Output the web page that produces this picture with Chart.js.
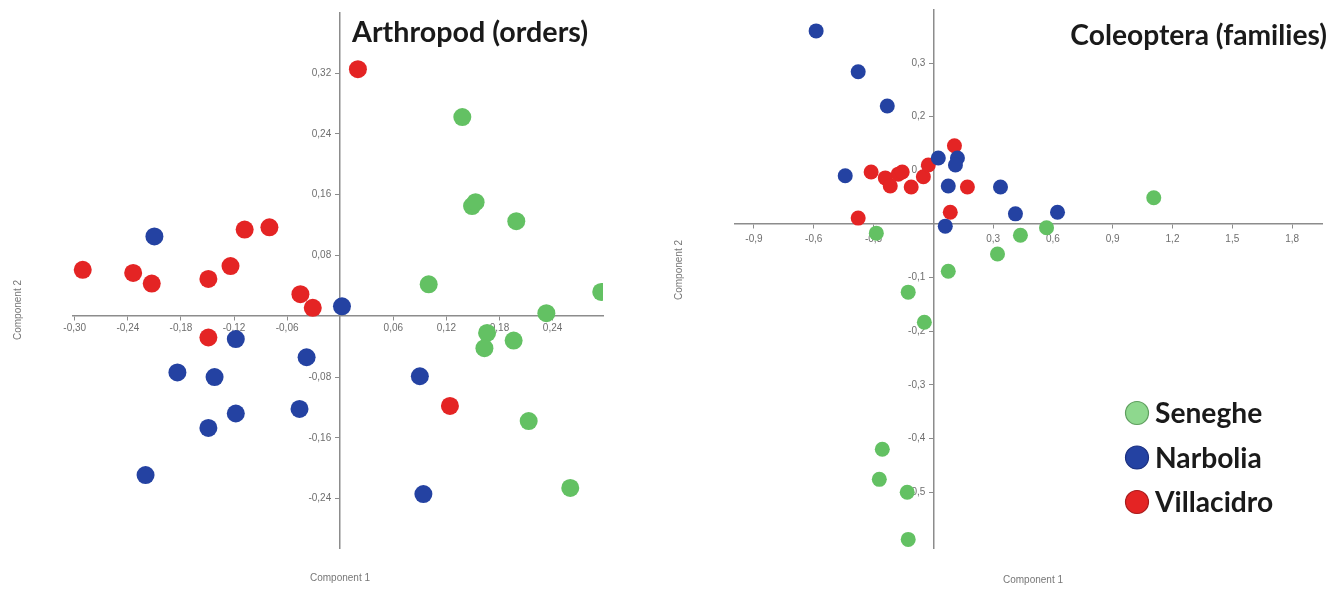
<!DOCTYPE html>
<html>
<head>
<meta charset="utf-8">
<script src="https://cdn.jsdelivr.net/npm/chart.js@4/dist/chart.umd.min.js"></script>
<style>
  html, body { margin: 0; padding: 0; background: #ffffff; }
  #wrap { position: relative; width: 1330px; height: 590px; overflow: hidden; }
  .box { position: absolute; top: 0; height: 590px; width: 665px; }
  #boxA { left: 0; }
  #boxB { left: 665px; }
</style>
</head>
<body>
<div id="wrap">
  <div class="box" id="boxA"><canvas id="chartA"></canvas></div>
  <div class="box" id="boxB"><canvas id="chartB"></canvas></div>
</div>
<script>
// ---------- Data ----------
const seriesNames = ["Seneghe", "Narbolia", "Villacidro"];

// Arthropod (orders)
const arthSenegheX = [0.138, 0.149, 0.153, 0.199, 0.100, 0.295, 0.233, 0.166, 0.163, 0.196, 0.213, 0.260];
const arthSenegheY = [0.262, 0.145, 0.150, 0.125, 0.042, 0.032, 0.004, -0.022, -0.042, -0.032, -0.138, -0.226];
const arthNarboliaX = [-0.210, 0.002, -0.118, -0.184, -0.142, -0.038, -0.118, -0.046, -0.149, -0.220, 0.090, 0.094];
const arthNarboliaY = [0.105, 0.013, -0.030, -0.074, -0.080, -0.054, -0.128, -0.122, -0.147, -0.209, -0.079, -0.234];
const arthVillacidroX = [0.020, -0.291, -0.234, -0.213, -0.149, -0.124, -0.108, -0.080, -0.045, -0.031, -0.149, 0.124];
const arthVillacidroY = [0.325, 0.061, 0.057, 0.043, 0.049, 0.066, 0.114, 0.117, 0.029, 0.011, -0.028, -0.118];
const arthXTicks = [-0.30, -0.24, -0.18, -0.12, -0.06, 0.06, 0.12, 0.18, 0.24];
const arthYTicks = [0.32, 0.24, 0.16, 0.08, -0.08, -0.16, -0.24];

// Coleoptera (families)
const coleSenegheX = [1.106, 0.568, 0.437, 0.322, 0.075, -0.126, -0.045, -0.286, -0.256, -0.271, -0.131, -0.126];
const coleSenegheY = [0.049, -0.007, -0.021, -0.056, -0.088, -0.127, -0.183, -0.017, -0.420, -0.476, -0.500, -0.588];
const coleNarboliaX = [-0.588, -0.377, -0.231, -0.442, 0.025, 0.121, 0.111, 0.075, 0.337, 0.412, 0.623, 0.060];
const coleNarboliaY = [0.360, 0.284, 0.220, 0.090, 0.123, 0.123, 0.110, 0.071, 0.069, 0.019, 0.022, -0.004];
const coleVillacidroX = [0.106, -0.312, -0.241, -0.216, -0.176, -0.156, -0.111, -0.050, -0.025, 0.171, 0.085, -0.377];
const coleVillacidroY = [0.146, 0.097, 0.086, 0.071, 0.093, 0.097, 0.069, 0.088, 0.110, 0.069, 0.022, 0.011];
const coleXTicks = [-0.9, -0.6, -0.3, 0.3, 0.6, 0.9, 1.2, 1.5, 1.8];
const coleYTicks = [0.3, 0.2, 0.1, -0.1, -0.2, -0.3, -0.4, -0.5];

// ---------- Styles ----------
const pointColors = ["#63c163", "#2442a2", "#e42424"];
const legendFill = ["#8ed88e", "#2442a2", "#e42424"];
const legendStroke = ["#5f9f5f", "#1b3080", "#a81c1c"];
const axisColor = "#8c8c8c";
const tickFontColor = "#6e6e6e";
const tickFont = "10px 'Liberation Sans', Arial, sans-serif";

function pts(xs, ys) { return xs.map((x, i) => ({ x: x, y: ys[i] })); }

function fitFont(ctx, text, targetWidth, family) {
  ctx.font = "bold 24px " + family;
  const w = ctx.measureText(text).width;
  return Math.round(24 * targetWidth / w * 10) / 10;
}

const annotatePlugin = {
  id: "annotate",
  beforeDatasetsDraw(chart, args, opts) {
    // y-axis tick labels (left of the centred axis, from the scale's own ticks)
    const ctx = chart.ctx;
    ctx.save();
    const ys = chart.scales.y;
    const axisX = chart.scales.x.getPixelForValue(0);
    ctx.font = tickFont;
    ctx.fillStyle = tickFontColor;
    ctx.textAlign = "right";
    ctx.textBaseline = "middle";
    ys.ticks.forEach((tk) => {
      ctx.fillText(tk.label, axisX - opts.yLabelGap, ys.getPixelForValue(tk.value));
    });
    ctx.restore();
  },
  afterDraw(chart, args, opts) {
    const ctx = chart.ctx;
    ctx.save();
    const fam = "Lato, 'Open Sans', sans-serif";
    // title
    const t = opts.title;
    const size = fitFont(ctx, t.text, t.width, fam);
    ctx.font = "bold " + size + "px " + fam;
    ctx.fillStyle = "#1a1a1a";
    ctx.textBaseline = "alphabetic";
    ctx.textAlign = t.align;
    ctx.fillText(t.text, t.x, t.y);
    // axis titles
    ctx.font = tickFont;
    ctx.fillStyle = "#777777";
    ctx.textAlign = "center";
    ctx.textBaseline = "middle";
    ctx.fillText("Component 1", opts.c1.x, opts.c1.y);
    ctx.save();
    ctx.translate(opts.c2.x, opts.c2.y);
    ctx.rotate(-Math.PI / 2);
    ctx.fillText("Component 2", 0, 0);
    ctx.restore();
    // legend
    if (opts.legend) {
      const L = opts.legend;
      const lsize = fitFont(ctx, "Villacidro", L.textWidth, fam);
      chart.data.datasets.forEach((ds, i) => {
        const cy = L.y + i * L.gap;
        ctx.beginPath();
        ctx.arc(L.x, cy, L.r, 0, Math.PI * 2);
        ctx.fillStyle = legendFill[i];
        ctx.fill();
        ctx.lineWidth = 1.2;
        ctx.strokeStyle = legendStroke[i];
        ctx.stroke();
        ctx.font = "bold " + lsize + "px " + fam;
        ctx.fillStyle = "#1a1a1a";
        ctx.textAlign = "left";
        ctx.textBaseline = "middle";
        ctx.fillText(ds.label, L.tx, cy + 1);
      });
    }
    ctx.restore();
  }
};

function makeScale(axisKey, min, max, tickValues, decimals, xPad) {
  const pos = axisKey === "x" ? { y: 0 } : { x: 0 };
  return {
    type: "linear",
    position: pos,
    min: min,
    max: max,
    afterBuildTicks: (scale) => { scale.ticks = tickValues.map(v => ({ value: v })); },
    afterFit: (scale) => { if (axisKey === "x") { scale.height = 0; } else { scale.width = 0; } },
    border: { display: true, color: axisColor, width: 1.5 },
    grid: { display: true, drawOnChartArea: false, drawTicks: true, tickLength: 4, color: axisColor, lineWidth: 1 },
    ticks: {
      display: axisKey === "x",
      autoSkip: false,
      maxRotation: 0,
      padding: xPad,
      color: tickFontColor,
      font: { family: "'Liberation Sans', Arial, sans-serif", size: 10 },
      callback: (v) => Number(v).toFixed(decimals).replace(".", ",")
    }
  };
}

function makeChart(id, data3, radius, scales, padding, annot) {
  return new Chart(document.getElementById(id), {
    type: "scatter",
    data: {
      datasets: data3.map((d, i) => ({
        label: seriesNames[i],
        data: d,
        backgroundColor: pointColors[i],
        borderColor: pointColors[i],
        borderWidth: 0,
        pointRadius: radius,
        pointHoverRadius: radius
      }))
    },
    options: {
      responsive: true,
      maintainAspectRatio: false,
      animation: false,
      layout: { padding: padding },
      plugins: {
        legend: { display: false },
        title: { display: false },
        tooltip: { enabled: false },
        annotate: annot
      },
      scales: scales
    },
    plugins: [annotatePlugin]
  });
}

makeChart("chartA",
  [pts(arthSenegheX, arthSenegheY), pts(arthNarboliaX, arthNarboliaY), pts(arthVillacidroX, arthVillacidroY)],
  9,
  { x: makeScale("x", -0.302, 0.297, arthXTicks, 2, 2), y: makeScale("y", -0.305, 0.399, arthYTicks, 2, 0) },
  { left: 73, right: 62, top: 13, bottom: 42 },
  {
    yLabelGap: 9,
    title: { text: "Arthropod (orders)", x: 352, y: 42, width: 236, align: "left" },
    c1: { x: 340, y: 578 },
    c2: { x: 18, y: 310 }
  }
);

makeChart("chartB",
  [pts(coleSenegheX, coleSenegheY), pts(coleNarboliaX, coleNarboliaY), pts(coleVillacidroX, coleVillacidroY)],
  7.5,
  { x: makeScale("x", -0.995, 1.95, coleXTicks, 1, 5), y: makeScale("y", -0.604, 0.399, coleYTicks, 1, 0) },
  { left: 70, right: 8, top: 10, bottom: 42 },
  {
    yLabelGap: 8,
    title: { text: "Coleoptera (families)", x: 662, y: 45, width: 257, align: "right" },
    c1: { x: 368, y: 580 },
    c2: { x: 14, y: 270 },
    legend: { x: 472, y: 413, gap: 44.5, r: 11.5, tx: 490, textWidth: 118 }
  }
);
</script>
</body>
</html>
